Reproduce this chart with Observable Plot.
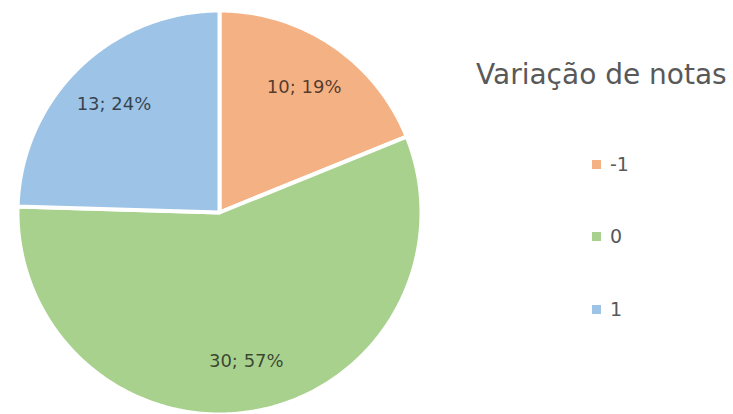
<!DOCTYPE html>
<html>
<head>
<meta charset="utf-8">
<script src="https://cdn.jsdelivr.net/npm/d3@7"></script>
<script src="https://cdn.jsdelivr.net/npm/@observablehq/plot@0.6"></script>
<style>
  html, body { margin: 0; padding: 0; background: #fff; }
  #wrap { position: relative; width: 733px; height: 414px; overflow: hidden; }
  #legend { position: absolute; left: 0; top: 0; width: 733px; height: 414px; pointer-events: none; font-family: "DejaVu Sans", sans-serif; }
  .title { position: absolute; left: 476px; top: 61px; font-size: 28px; line-height: 28px; color: #595959; white-space: nowrap; }
  .item { position: absolute; left: 592px; font-size: 19px; line-height: 20px; height: 20px; color: #595959; white-space: nowrap; display: flex; align-items: center; }
  .sw { width: 9px; height: 9px; margin-right: 9px; display: inline-block; }
</style>
</head>
<body>
<div id="wrap"></div>
<script>
const title = "Variação de notas";
const categories = ["-1", "0", "1"];
const counts = [10, 30, 13];
const percents = ["19%", "57%", "24%"];
const colors = ["#F4B183", "#A9D18E", "#9DC3E6"];

const data = categories.map((c, i) => ({category: c, count: counts[i], pct: percents[i]}));
const arcs = d3.pie().sort(null).value(d => d.count)(data);

function slicePolygon(a) {
  const pts = [[0, 0]];
  const n = Math.max(2, Math.ceil((a.endAngle - a.startAngle) / 0.01));
  for (let k = 0; k <= n; k++) {
    const t = a.startAngle + (a.endAngle - a.startAngle) * k / n;
    pts.push([Math.sin(t), Math.cos(t)]);
  }
  pts.push([0, 0]);
  return {type: "Feature", properties: a.data, geometry: {type: "Polygon", coordinates: [pts]}};
}
const slices = arcs.map(slicePolygon);
const labels = arcs.map(a => {
  const m = (a.startAngle + a.endAngle) / 2;
  const r = 0.75;
  return {x: r * Math.sin(m), y: r * Math.cos(m), text: `${a.data.count}; ${a.data.pct}`};
});

const chart = Plot.plot({
  width: 733,
  height: 414,
  marginLeft: 16,
  marginRight: 311,
  marginTop: 10,
  marginBottom: 0,
  projection: {type: "reflect-y", domain: {type: "MultiPoint", coordinates: [[-1, -1], [1, 1]]}},
  color: {domain: categories, range: colors},
  marks: [
    Plot.geo(slices, {fill: d => d.properties.category, stroke: "white", strokeWidth: 4}),
    Plot.text(labels, {x: "x", y: "y", text: "text", fill: "#000", fillOpacity: 0.68, fontSize: 18, fontFamily: "DejaVu Sans, sans-serif"})
  ],
  style: {fontFamily: "DejaVu Sans, sans-serif"}
});
const wrap = document.getElementById("wrap");
wrap.appendChild(chart);

const legend = document.createElement("div");
legend.id = "legend";
const t = document.createElement("div");
t.className = "title";
t.textContent = title;
legend.appendChild(t);
const tops = [154, 226, 299];
categories.forEach((c, i) => {
  const it = document.createElement("div");
  it.className = "item";
  it.style.top = tops[i] + "px";
  const sw = document.createElement("span");
  sw.className = "sw";
  sw.style.background = colors[i];
  it.appendChild(sw);
  it.appendChild(document.createTextNode(c));
  legend.appendChild(it);
});
wrap.appendChild(legend);
</script>
</body>
</html>
